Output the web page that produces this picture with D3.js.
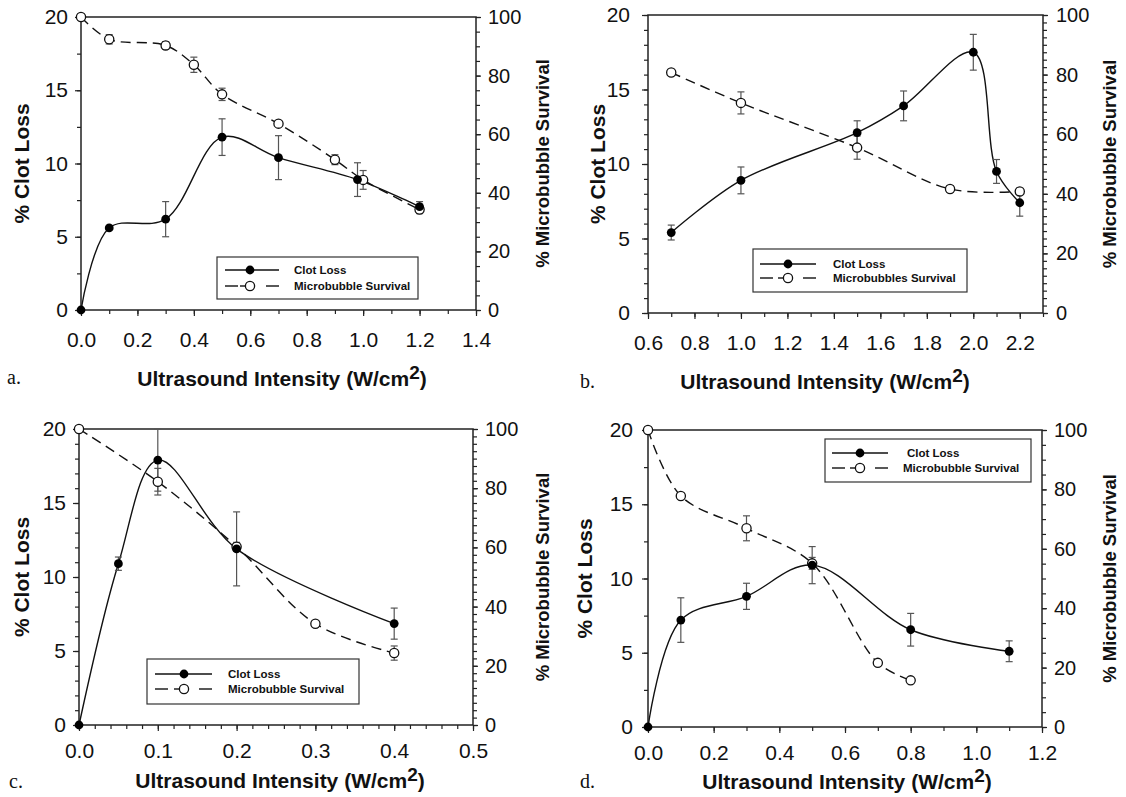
<!DOCTYPE html>
<html><head><meta charset="utf-8">
<script src="https://cdn.jsdelivr.net/npm/d3@7"></script>
<style>
html,body{margin:0;padding:0;background:#fff;}
svg{display:block;}
</style></head>
<body>
<svg id="chart" width="1126" height="797"></svg>
<script>
// ---------------- DATA ----------------
const yLeftTicks = [0, 5, 10, 15, 20];
const yRightTicks = [0, 20, 40, 60, 80, 100];
const xTicksA = [0, 0.2, 0.4, 0.6, 0.8, 1.0, 1.2, 1.4];
const xTicksB = [0.6, 0.8, 1.0, 1.2, 1.4, 1.6, 1.8, 2.0, 2.2];
const xTicksC = [0, 0.1, 0.2, 0.3, 0.4, 0.5];
const xTicksD = [0, 0.2, 0.4, 0.6, 0.8, 1.0, 1.2];

const aClotX = [0, 0.1, 0.3, 0.5, 0.7, 0.98, 1.2];
const aClotY = [0, 5.6, 6.2, 11.8, 10.4, 8.9, 7.05];
const aClotErr = [0, 0, 1.2, 1.25, 1.5, 1.15, 0.35];
const aMicroX = [0, 0.1, 0.3, 0.4, 0.5, 0.7, 0.9, 1.0, 1.2];
const aMicroY = [100, 92.4, 90.3, 83.7, 73.6, 63.6, 51.3, 44.4, 34.3];
const aMicroErr = [0, 1.6, 1.3, 2.6, 2.1, 1.0, 1.7, 3.2, 1.4];

const bClotX = [0.7, 1.0, 1.5, 1.7, 2.0, 2.1, 2.2];
const bClotY = [5.4, 8.9, 12.1, 13.9, 17.5, 9.5, 7.4];
const bClotErr = [0.5, 0.9, 0.8, 1.0, 1.2, 0.8, 0.9];
const bMicroX = [0.7, 1.0, 1.5, 1.9, 2.2];
const bMicroY = [80.7, 70.5, 55.5, 41.6, 40.8];
const bMicroErr = [1.0, 3.7, 3.9, 1.0, 0];

const cClotX = [0, 0.05, 0.1, 0.2, 0.4];
const cClotY = [0, 10.9, 17.9, 11.9, 6.85];
const cClotErr = [0, 0.45, 2.1, 2.5, 1.05];
const cMicroX = [0, 0.1, 0.2, 0.3, 0.4];
const cMicroY = [100, 82.2, 60.2, 34.2, 24.3];
const cMicroErr = [0, 4.5, 1.5, 1.0, 2.4];

const dClotX = [0, 0.1, 0.3, 0.5, 0.8, 1.1];
const dClotY = [0, 7.2, 8.8, 10.9, 6.55, 5.1];
const dClotErr = [0, 1.5, 0.88, 1.25, 1.1, 0.7];
const dMicroX = [0, 0.1, 0.3, 0.5, 0.7, 0.8];
const dMicroY = [100, 77.8, 66.9, 55.1, 21.6, 15.7];
const dMicroErr = [0, 0, 4.2, 2.0, 0, 0];

const clotLabel = "Clot Loss";
const microLabelA = "Microbubble Survival";
const microLabelB = "Microbubbles Survival";
const yLeftTitle = "% Clot Loss";
const yRightTitle = "% Microbubble Survival";
const xTitleMain = "Ultrasound Intensity (W/cm";
const panelLetters = ["a.", "b.", "c.", "d."];

// ---------------- LAYOUT ----------------
const panels = [
  {letter: panelLetters[0], box:{l:81, r:476, t:17, b:310}, xDom:[0,1.4], xMajor:xTicksA, xMinorStep:0.1,
   yMinor:2.5, y2Minor:5, clot:[aClotX,aClotY,aClotErr], micro:[aMicroX,aMicroY,aMicroErr], microLabel:microLabelA,
   xPad:16, yPad:7, y2Pad:7, lTitleX:22, rTitleX:543, xTitleX:282, xTitleY:386, letterX:7, letterY:384,
   leg:{x:217, y:257, w:201, h:42, s1:8, s2:62, m:33, tx:77, tx2:77, r1:13, r2:29}},
  {letter: panelLetters[1], box:{l:648, r:1043, t:15, b:313}, xDom:[0.6,2.3], xMajor:xTicksB, xMinorStep:0.1,
   yMinor:1, y2Minor:2.5, clot:[bClotX,bClotY,bClotErr], micro:[bMicroX,bMicroY,bMicroErr], microLabel:microLabelB,
   xPad:16, yPad:12, y2Pad:8, lTitleX:598, rTitleX:1110, xTitleX:825, xTitleY:389, letterX:580, letterY:388,
   leg:{x:753, y:249, w:214, h:43, s1:7, s2:63, m:35, tx:80, tx2:80, r1:15, r2:29}},
  {letter: panelLetters[2], box:{l:79, r:473, t:429, b:725}, xDom:[0,0.5], xMajor:xTicksC, xMinorStep:0.02,
   yMinor:1, y2Minor:2.5, clot:[cClotX,cClotY,cClotErr], micro:[cMicroX,cMicroY,cMicroErr], microLabel:microLabelA,
   xPad:12, yPad:7, y2Pad:7, lTitleX:22, rTitleX:543, xTitleX:280, xTitleY:788, letterX:9, letterY:788,
   leg:{x:147, y:659, w:212, h:45, s1:8, s2:65, m:37, tx:81, tx2:81, r1:15, r2:30}},
  {letter: panelLetters[3], box:{l:648, r:1042, t:430, b:727}, xDom:[0,1.2], xMajor:xTicksD, xMinorStep:0.1,
   yMinor:2.5, y2Minor:5, clot:[dClotX,dClotY,dClotErr], micro:[dMicroX,dMicroY,dMicroErr], microLabel:microLabelA,
   xPad:12, yPad:9, y2Pad:7, lTitleX:585, rTitleX:1110, xTitleX:847, xTitleY:789, letterX:580, letterY:788,
   leg:{x:825, y:439, w:206, h:43, s1:7, s2:63, m:35, tx:82, tx2:78, r1:14, r2:29}}
];

const FONT = "'Liberation Sans', Arial, Helvetica, sans-serif";
const SERIF = "'Liberation Serif', 'Times New Roman', serif";
const svg = d3.select("#chart");

function rangeStep(a, b, s) {
  const n = Math.round((b - a) / s);
  return d3.range(n + 1).map(i => +(a + i * s).toFixed(6));
}

function drawPanel(p) {
  const B = p.box;
  const x = d3.scaleLinear().domain(p.xDom).range([B.l, B.r]);
  const y = d3.scaleLinear().domain([0, 20]).range([B.b, B.t]);
  const y2 = d3.scaleLinear().domain([0, 100]).range([B.b, B.t]);
  const g = svg.append("g");

  // minor ticks
  g.append("g").attr("transform", `translate(0,${B.b})`)
    .call(d3.axisBottom(x).tickValues(rangeStep(p.xDom[0], p.xDom[1], p.xMinorStep)).tickSize(4).tickSizeOuter(0).tickFormat(""))
    .call(s => s.select(".domain").remove());
  g.append("g").attr("transform", `translate(${B.l},0)`)
    .call(d3.axisLeft(y).tickValues(rangeStep(0, 20, p.yMinor)).tickSize(4).tickSizeOuter(0).tickFormat(""))
    .call(s => s.select(".domain").remove());
  g.append("g").attr("transform", `translate(${B.r},0)`)
    .call(d3.axisRight(y2).tickValues(rangeStep(0, 100, p.y2Minor)).tickSize(4).tickSizeOuter(0).tickFormat(""))
    .call(s => s.select(".domain").remove());

  // major ticks + labels
  const gx = g.append("g").attr("transform", `translate(0,${B.b})`)
    .call(d3.axisBottom(x).tickValues(p.xMajor).tickSize(6).tickSizeOuter(0).tickPadding(p.xPad).tickFormat(d3.format(".1f")));
  const gy = g.append("g").attr("transform", `translate(${B.l},0)`)
    .call(d3.axisLeft(y).tickValues(yLeftTicks).tickSize(6).tickSizeOuter(0).tickPadding(p.yPad).tickFormat(d3.format("d")));
  const gy2 = g.append("g").attr("transform", `translate(${B.r},0)`)
    .call(d3.axisRight(y2).tickValues(yRightTicks).tickSize(5).tickSizeOuter(0).tickPadding(p.y2Pad).tickFormat(d3.format("d")));
  [gx, gy, gy2].forEach(a => a.select(".domain").remove());
  g.selectAll(".tick line").attr("stroke", "#222").attr("stroke-width", 1.2);
  gx.selectAll("text").attr("font-family", FONT).attr("font-size", 21).attr("fill", "#111");
  gy.selectAll("text").attr("font-family", FONT).attr("font-size", 21).attr("fill", "#111");
  gy2.selectAll("text").attr("font-family", FONT).attr("font-size", 20).attr("fill", "#111");

  // frame
  g.append("rect").attr("x", B.l).attr("y", B.t).attr("width", B.r - B.l).attr("height", B.b - B.t)
    .attr("fill", "none").attr("stroke", "#222").attr("stroke-width", 1.5);

  // curves
  const clotPts = p.clot[0].map((v, i) => [v, p.clot[1][i], p.clot[2][i]]);
  const microPts = p.micro[0].map((v, i) => [v, p.micro[1][i], p.micro[2][i]]);
  const lineC = d3.line().x(d => x(d[0])).y(d => y(d[1])).curve(d3.curveCatmullRom.alpha(0.5));
  const lineM = d3.line().x(d => x(d[0])).y(d => y2(d[1])).curve(d3.curveCatmullRom.alpha(0.5));
  g.append("path").attr("d", lineM(microPts)).attr("fill", "none").attr("stroke", "#111")
    .attr("stroke-width", 1.4).attr("stroke-dasharray", "10,6");
  g.append("path").attr("d", lineC(clotPts)).attr("fill", "none").attr("stroke", "#111").attr("stroke-width", 1.4);

  // error bars
  function errBars(pts, sc) {
    pts.filter(d => d[2] > 0).forEach(d => {
      const cx = x(d[0]), y1 = sc(d[1] + d[2]), y0 = sc(d[1] - d[2]);
      const eb = g.append("g").attr("stroke", "#555").attr("stroke-width", 1.2);
      eb.append("line").attr("x1", cx).attr("x2", cx).attr("y1", y1).attr("y2", y0);
      eb.append("line").attr("x1", cx - 3.5).attr("x2", cx + 3.5).attr("y1", y1).attr("y2", y1);
      eb.append("line").attr("x1", cx - 3.5).attr("x2", cx + 3.5).attr("y1", y0).attr("y2", y0);
    });
  }
  errBars(microPts, y2);
  errBars(clotPts, y);

  // markers
  g.selectAll(null).data(microPts).enter().append("circle")
    .attr("cx", d => x(d[0])).attr("cy", d => y2(d[1])).attr("r", 4.6)
    .attr("fill", "#fff").attr("stroke", "#111").attr("stroke-width", 1.3);
  g.selectAll(null).data(clotPts).enter().append("circle")
    .attr("cx", d => x(d[0])).attr("cy", d => y(d[1])).attr("r", 4.4).attr("fill", "#000");

  // legend
  const L = p.leg;
  const lg = g.append("g").attr("transform", `translate(${L.x},${L.y})`);
  lg.append("rect").attr("width", L.w).attr("height", L.h).attr("fill", "#fff").attr("stroke", "#333").attr("stroke-width", 1.2);
  lg.append("line").attr("x1", L.s1).attr("x2", L.s2).attr("y1", L.r1).attr("y2", L.r1).attr("stroke", "#111").attr("stroke-width", 1.4);
  lg.append("circle").attr("cx", L.m).attr("cy", L.r1).attr("r", 4.4).attr("fill", "#000");
  [[L.s1, L.s1 + 13], [L.m - 10, L.m], [L.s2 - 13, L.s2]].forEach(s =>
    lg.append("line").attr("x1", s[0]).attr("x2", s[1]).attr("y1", L.r2).attr("y2", L.r2).attr("stroke", "#111").attr("stroke-width", 1.4));
  lg.append("circle").attr("cx", L.m).attr("cy", L.r2).attr("r", 4.6).attr("fill", "#fff").attr("stroke", "#111").attr("stroke-width", 1.3);
  lg.append("text").attr("x", L.tx).attr("y", L.r1).attr("dy", "0.35em").text(clotLabel)
    .attr("font-family", FONT).attr("font-weight", "bold").attr("font-size", 11.5).attr("fill", "#111");
  lg.append("text").attr("x", L.tx2).attr("y", L.r2).attr("dy", "0.35em").text(p.microLabel)
    .attr("font-family", FONT).attr("font-weight", "bold").attr("font-size", 11.5).attr("fill", "#111");

  // titles
  const cy = (B.t + B.b) / 2;
  g.append("text").attr("transform", `translate(${p.lTitleX},${cy}) rotate(-90)`).attr("dy", "0.35em")
    .attr("text-anchor", "middle").attr("font-family", FONT).attr("font-weight", "bold").attr("font-size", 21)
    .attr("fill", "#111").text(yLeftTitle);
  g.append("text").attr("transform", `translate(${p.rTitleX},${cy}) rotate(-90)`).attr("dy", "0.35em")
    .attr("text-anchor", "middle").attr("font-family", FONT).attr("font-weight", "bold").attr("font-size", 18.5)
    .attr("fill", "#111").text(yRightTitle);
  const xt = g.append("text").attr("x", p.xTitleX).attr("y", p.xTitleY).attr("text-anchor", "middle")
    .attr("font-family", FONT).attr("font-weight", "bold").attr("font-size", 21).attr("fill", "#111");
  xt.append("tspan").text(xTitleMain);
  xt.append("tspan").attr("dy", -7).attr("font-size", 19).text("2");
  xt.append("tspan").attr("dy", 7).text(")");
  g.append("text").attr("x", p.letterX).attr("y", p.letterY).attr("font-family", SERIF).attr("font-size", 20)
    .attr("fill", "#111").text(p.letter);
}

panels.forEach(drawPanel);
</script>
</body></html>
